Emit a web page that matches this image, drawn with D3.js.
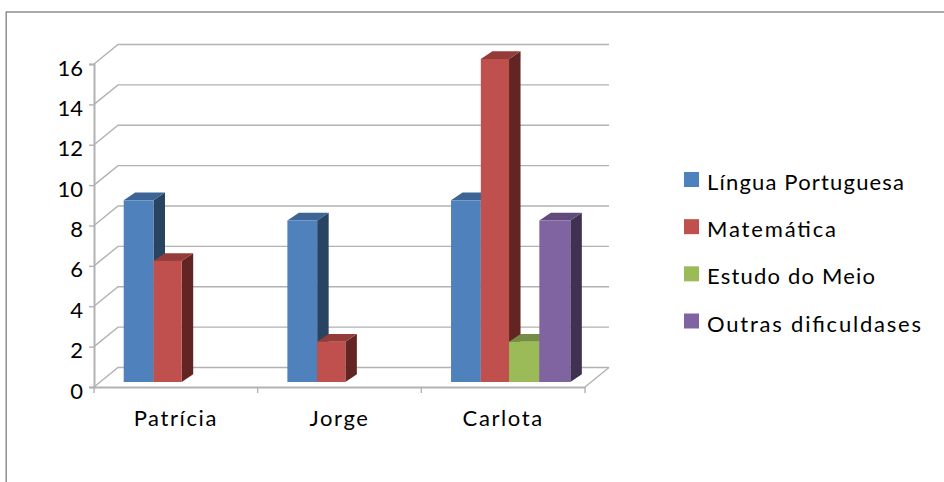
<!DOCTYPE html>
<html>
<head>
<meta charset="utf-8">
<script src="https://cdn.jsdelivr.net/npm/d3@7"></script>
<style>
html,body{margin:0;padding:0;background:#fff;}
svg{display:block;}
text{font-family:Lato,"Open Sans",sans-serif;fill:#000;}
</style>
</head>
<body>
<svg id="chart" width="944" height="482"></svg>
<script>
// Pupils and the number of difficulties recorded per subject
const categories = ["Patrícia", "Jorge", "Carlota"];
const subjects = ["Língua Portuguesa", "Matemática", "Estudo do Meio", "Outras dificuldases"];
const linguaPortuguesa = [9, 8, 9];
const matematica = [6, 2, 16];
const estudoDoMeio = [null, null, 2];
const outrasDificuldades = [null, null, 8];
const seriesValues = [linguaPortuguesa, matematica, estudoDoMeio, outrasDificuldades];
const yTicks = [0, 2, 4, 6, 8, 10, 12, 14, 16];

const frontColors = ["#4F81BD", "#C0504D", "#9BBB59", "#8064A2"];
const topColors = ["#3C6494", "#943C3A", "#748C43", "#604B7A"];
const sideColors = ["#294460", "#632523", "#4F6228", "#3F3151"];
const gridColor = "#B2B2B2";

// Horizontal slots of the four series inside a category band
const seriesEdges = [29.7, 59.5, 87.7, 118, 149];
// Set widths of the legend captions
const legendWidths = [197, 129, 168, 214];

const svg = d3.select("#chart");

// Outer chart frame
svg.append("rect")
  .attr("x", 6.2).attr("y", 12)
  .attr("width", 960).attr("height", 500)
  .attr("fill", "#fff").attr("stroke", "#868686").attr("stroke-width", 1.4);

// Oblique projection: floor depth and the bars' position inside it
const wallDx = 24, wallDy = -19.5;
const barShiftY = -5;
const barDx = 11.5, barDy = -7.7;

const y = d3.scaleLinear().domain([0, 16]).range([387, 64]);
const x0 = d3.scaleBand().domain(categories).range([94, 585]);
const x1 = d3.scaleLinear().domain(d3.range(seriesEdges.length)).range(seriesEdges);

// Back wall gridlines with their slanted side-wall segments
const walls = svg.append("g").attr("fill", "none").attr("stroke", gridColor).attr("stroke-width", 1.4);
yTicks.forEach(t => {
  const line = d3.line()([
    [x0.range()[0], y(t)],
    [x0.range()[0] + wallDx, y(t) + wallDy],
    [x0.range()[1] + wallDx, y(t) + wallDy]
  ]);
  walls.append("path").attr("d", line);
});
// Floor edge on the right
walls.append("line")
  .attr("x1", x0.range()[1]).attr("y1", y(0))
  .attr("x2", x0.range()[1] + wallDx).attr("y2", y(0) + wallDy);

// Value axis
const yAxis = d3.axisLeft(y).tickValues(yTicks).tickSize(5).tickPadding(6);
const gy = svg.append("g").attr("transform", `translate(${x0.range()[0]},0)`).call(yAxis);
gy.select(".domain").attr("stroke", gridColor).attr("stroke-width", 2);
gy.selectAll(".tick line").attr("stroke", gridColor).attr("stroke-width", 1.4);
gy.selectAll(".tick text")
  .attr("font-size", 22).attr("fill", "#000").attr("text-anchor", "end").attr("dy", "0.5em")
  .style("font-family", 'Lato,"Open Sans",sans-serif');

// Category axis
const xAxis = d3.axisBottom(x0).tickSize(0).tickPadding(0);
const gx = svg.append("g").attr("transform", `translate(0,${y(0)})`).call(xAxis);
gx.select(".domain").attr("stroke", gridColor).attr("stroke-width", 2);
gx.selectAll(".tick line").remove();
gx.selectAll(".tick text")
  .attr("y", 39).attr("dy", null)
  .attr("font-size", 22).attr("letter-spacing", 1.6).attr("fill", "#000")
  .style("font-family", 'Lato,"Open Sans",sans-serif');
const boundaries = [...categories.map(c => x0(c)), x0.range()[1]];
gx.selectAll("line.sep").data(boundaries).join("line").attr("class", "sep")
  .attr("x1", d => d).attr("x2", d => d).attr("y1", 0).attr("y2", 6)
  .attr("stroke", gridColor).attr("stroke-width", 1.4);

// 3D bars: right side, then top, then front, series by series
const bars = svg.append("g");
seriesValues.forEach((values, s) => {
  values.forEach((v, c) => {
    if (v === null) return;
    const left = x0(categories[c]) + x1(s);
    const right = x0(categories[c]) + x1(s + 1);
    const top = y(v) + barShiftY;
    const base = y(0) + barShiftY;
    bars.append("path").attr("fill", sideColors[s]).attr("d", d3.line()([
      [right, top], [right + barDx, top + barDy], [right + barDx, base + barDy], [right, base]
    ]) + "Z");
    bars.append("path").attr("fill", topColors[s]).attr("d", d3.line()([
      [left, top], [left + barDx, top + barDy], [right + barDx, top + barDy], [right, top]
    ]) + "Z");
    bars.append("rect").attr("fill", frontColors[s])
      .attr("x", left).attr("y", top)
      .attr("width", right - left).attr("height", base - top);
  });
});

// Legend
const legendY = d3.scalePoint().domain(subjects).range([172, 313.5]);
const legend = svg.append("g").selectAll("g").data(subjects).join("g")
  .attr("transform", d => `translate(684,${legendY(d)})`);
legend.append("rect").attr("width", 15).attr("height", 15)
  .attr("fill", (d, i) => frontColors[i]);
legend.append("text").attr("x", 23).attr("y", 18)
  .attr("font-size", 22)
  .attr("textLength", (d, i) => legendWidths[i]).attr("lengthAdjust", "spacing")
  .text(d => d);
</script>
</body>
</html>
